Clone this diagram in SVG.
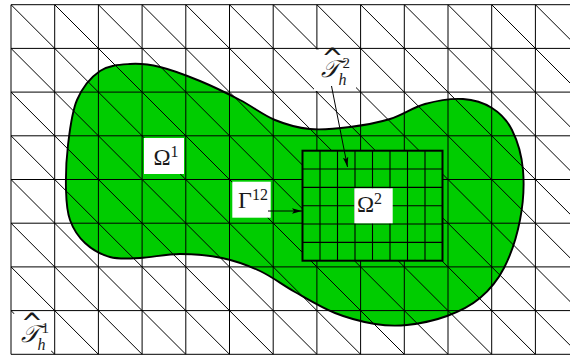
<svg xmlns="http://www.w3.org/2000/svg" width="570" height="356" viewBox="0 0 570 356">
<style>
.ln{stroke:#000;stroke-width:1;fill:none}
.fine{stroke:#000;stroke-width:1.1;fill:none}
.lbl{fill:#fff;stroke:none}
.tx{font-family:"Liberation Serif","Times New Roman",serif;fill:#1a1a1a}
.scr{font-family:"DejaVu Serif","DejaVu Sans",serif;font-style:italic}
.hat{font-family:"DejaVu Sans ExtraLight","DejaVu Sans",sans-serif;font-style:normal}
.arr{stroke:#000;stroke-width:1;fill:none;marker-end:url(#ah)}
</style>
<defs>
<clipPath id="gclip"><rect x="11" y="4.7" width="559" height="349.6"/></clipPath>
<marker id="ah" markerUnits="userSpaceOnUse" markerWidth="11" markerHeight="7" refX="10" refY="3.5" orient="auto">
<path d="M0,0.8 L10,3.5 L0,6.2 L2,3.5 Z" fill="#000"/>
</marker>
<path id="blob" d="M66,190 C65.67,177.5 66.17,160 68,145 C69.83,130 71.67,112.33 77,100 C82.33,87.67 91.17,77 100,71 C108.83,65 120,64.67 130,64 C140,63.33 148.33,64.17 160,67 C171.67,69.83 186.67,75.5 200,81 C213.33,86.5 227.5,93.5 240,100 C252.5,106.5 263.33,115.17 275,120 C286.67,124.83 297.5,127.83 310,129 C322.5,130.17 336.67,128.67 350,127 C363.33,125.33 377.5,122.83 390,119 C402.5,115.17 412.83,107.33 425,104 C437.17,100.67 451.83,98.33 463,99 C474.17,99.67 483.83,102.83 492,108 C500.17,113.17 506.83,119.67 512,130 C517.17,140.33 521.67,155 523,170 C524.33,185 523.17,203.67 520,220 C516.83,236.33 510.67,255 504,268 C497.33,281 489.5,290 480,298 C470.5,306 459.17,311.5 447,316 C434.83,320.5 419,323.67 407,325 C395,326.33 387,326 375,324 C363,322 348.33,318.33 335,313 C321.67,307.67 307.5,299 295,292 C282.5,285 272.17,276.67 260,271 C247.83,265.33 235.33,260.83 222,258 C208.67,255.17 193.67,254 180,254 C166.33,254 151.67,257.5 140,258 C128.33,258.5 119.17,259.5 110,257 C100.83,254.5 91.67,249.17 85,243 C78.33,236.83 73.17,228.83 70,220 C66.83,211.17 66.33,202.5 66,190 Z"/>
</defs>
<rect width="570" height="356" fill="#fff"/>
<g id="omega1-domain">
<use href="#blob" fill="#00cc00" stroke="none"/>
</g>
<g id="coarse-mesh">
<path class="ln" d="M11,4.7V354.3 M54.7,4.7V354.3 M98.4,4.7V354.3 M142.1,4.7V354.3 M185.8,4.7V354.3 M229.5,4.7V354.3 M273.2,4.7V354.3 M316.9,4.7V354.3 M360.6,4.7V354.3 M404.3,4.7V354.3 M448,4.7V354.3 M491.7,4.7V354.3 M535.4,4.7V354.3"/>
<path class="ln" d="M11,4.7H570 M11,48.4H570 M11,92.1H570 M11,135.8H570 M11,179.5H570 M11,223.2H570 M11,266.9H570 M11,310.6H570 M11,354.3H570"/>
<g clip-path="url(#gclip)">
<path class="ln" d="M-294.9,4.7L54.7,354.3 M-251.2,4.7L98.4,354.3 M-207.5,4.7L142.1,354.3 M-163.8,4.7L185.8,354.3 M-120.1,4.7L229.5,354.3 M-76.4,4.7L273.2,354.3 M-32.7,4.7L316.9,354.3 M11,4.7L360.6,354.3 M54.7,4.7L404.3,354.3 M98.4,4.7L448,354.3 M142.1,4.7L491.7,354.3 M185.8,4.7L535.4,354.3 M229.5,4.7L579.1,354.3 M273.2,4.7L622.8,354.3 M316.9,4.7L666.5,354.3 M360.6,4.7L710.2,354.3 M404.3,4.7L753.9,354.3 M448,4.7L797.6,354.3 M491.7,4.7L841.3,354.3 M535.4,4.7L885,354.3"/>
</g>
</g>
<g id="omega1-outline">
<use href="#blob" fill="none" stroke="#000" stroke-width="1.9"/>
</g>
<g id="omega2">
<rect x="302.5" y="150.7" width="140" height="110" fill="#00cc00"/>
<path class="fine" d="M320,150.7V260.7 M337.5,150.7V260.7 M355,150.7V260.7 M372.5,150.7V260.7 M390,150.7V260.7 M407.5,150.7V260.7 M425,150.7V260.7 M302.5,169.03H442.5 M302.5,187.37H442.5 M302.5,205.7H442.5 M302.5,224.03H442.5 M302.5,242.37H442.5"/>
<rect x="302.5" y="150.7" width="140" height="110" fill="none" stroke="#000" stroke-width="2"/>
</g>
<g id="label-omega1">
<rect class="lbl" x="144" y="138" width="40" height="36"/>
<text class="tx" x="153.5" y="165" font-size="23">Ω<tspan font-size="16" dy="-8">1</tspan></text>
</g>
<g id="label-gamma12">
<rect class="lbl" x="232.3" y="181.7" width="38.4" height="36"/>
<text class="tx" x="238" y="208.3" font-size="24">Γ<tspan font-size="16" dy="-8">12</tspan></text>
</g>
<g id="label-omega2">
<rect class="lbl" x="354.3" y="188.3" width="38.4" height="35"/>
<text class="tx" x="357" y="211.7" font-size="23">Ω<tspan font-size="16" dy="-8">2</tspan></text>
</g>
<g id="label-Th2">
<rect class="lbl" x="314" y="49.5" width="42" height="41.5"/>
<text class="tx"><tspan class="hat" font-size="26" x="321.5" y="67">^</tspan><tspan class="scr" font-size="24" x="321" y="76.7">𝒯</tspan><tspan font-size="16" font-style="italic" x="338.5" y="85">h</tspan><tspan font-size="15" x="342.5" y="68.3">2</tspan></text>
</g>
<g id="label-Th1">
<rect class="lbl" x="14" y="313.5" width="37.5" height="37.5"/>
<text class="tx"><tspan class="hat" font-size="26" x="21" y="332">^</tspan><tspan class="scr" font-size="24" x="21" y="341.7">𝒯</tspan><tspan font-size="16" font-style="italic" x="37.5" y="350">h</tspan><tspan font-size="15" x="41.5" y="332.7">1</tspan></text>
</g>
<g id="connectors">
<line class="arr" x1="268" y1="211" x2="302" y2="211"/>
<line class="arr" x1="331.5" y1="86" x2="347.5" y2="167"/>
</g>
</svg>
